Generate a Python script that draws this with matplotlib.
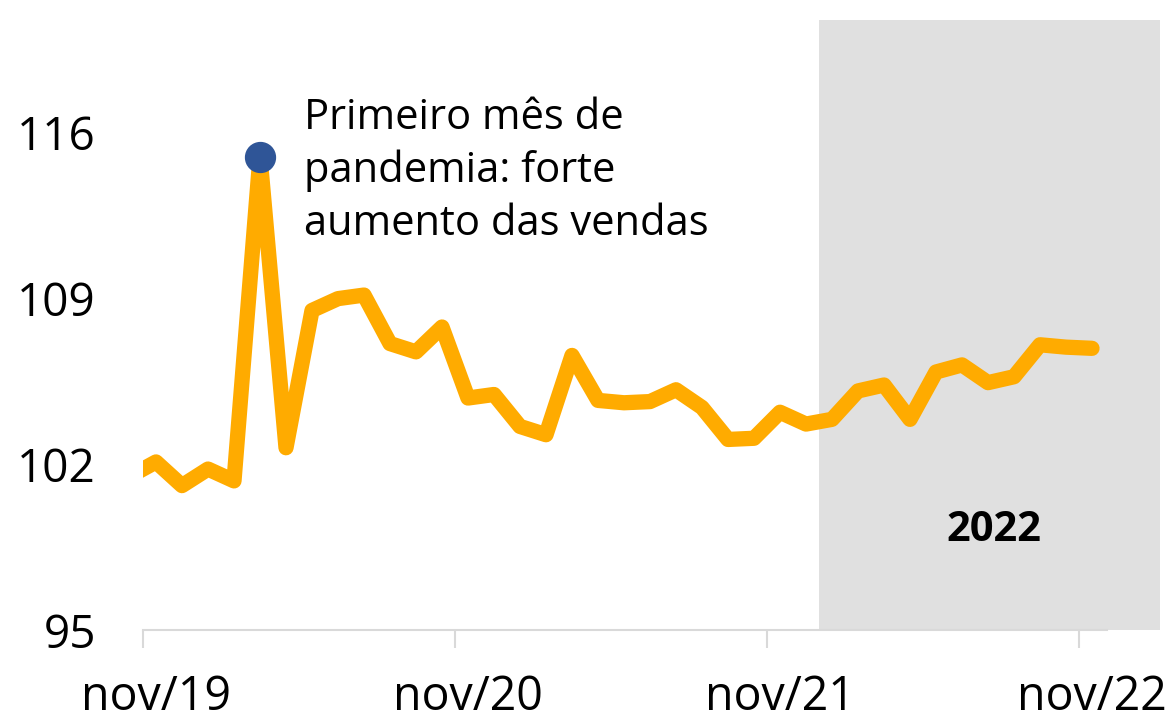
import matplotlib
matplotlib.use("Agg")
import matplotlib.pyplot as plt
import numpy as np

plt.rcParams['font.family'] = ['Open Sans', 'DejaVu Sans']

# Monthly index values, oct/19 .. nov/22
months = ["out/19", "nov/19", "dez/19", "jan/20", "fev/20", "mar/20", "abr/20", "mai/20",
          "jun/20", "jul/20", "ago/20", "set/20", "out/20", "nov/20", "dez/20", "jan/21",
          "fev/21", "mar/21", "abr/21", "mai/21", "jun/21", "jul/21", "ago/21", "set/21",
          "out/21", "nov/21", "dez/21", "jan/22", "fev/22", "mar/22", "abr/22", "mai/22",
          "jun/22", "jul/22", "ago/22", "set/22", "out/22", "nov/22"]
values = [101.5, 102.1, 101.1, 101.8, 101.3, 115.0, 102.7, 108.5,
          109.0, 109.15, 107.1, 106.75, 107.8, 104.8, 104.95, 103.6,
          103.25, 106.6, 104.7, 104.6, 104.65, 105.15, 104.4, 103.05,
          103.1, 104.2, 103.7, 103.9, 105.1, 105.35, 103.9, 105.9,
          106.2, 105.45, 105.7, 107.05, 106.95, 106.9]

tick_labels = ["nov/19", "nov/20", "nov/21", "nov/22"]
highlight_month = "mar/20"
shade_start_month = "jan/22"

x = np.arange(len(values))

fig = plt.figure(figsize=(11.73, 7.23), dpi=100)
ax = fig.add_axes([143/1173, 1 - 630/723, (1160 - 143)/1173, (630 - 20)/723])

s = months.index(shade_start_month) - 0.5
ax.axvspan(s, 100, color="#E0E0E0", zorder=0, lw=0)

ax.plot(x, values, color="#FFAB00", lw=11, solid_joinstyle="round",
        solid_capstyle="round", zorder=2)
hi = months.index(highlight_month)
ax.plot([x[hi]], [values[hi]], "o", color="#2F5597", ms=21.5, zorder=3)

ax.set_xlim(0.5, (1160 - 130) / 26)
ax.set_ylim(95, 95 + 610 / 23.67)

ax.set_yticks([95, 102, 109, 116])
ax.set_yticklabels(["95", "102", "109", "116"])

# tick marks at category boundaries, labels centred on the month points
label_pos = [months.index(m) for m in tick_labels]
ax.set_xticks([p - 0.5 for p in label_pos])
ax.set_xticklabels([])
ax.set_xticks(label_pos, minor=True)
ax.set_xticklabels(tick_labels, minor=True)

for sp in ["left", "right", "top"]:
    ax.spines[sp].set_visible(False)
ax.spines["bottom"].set_color("#D9D9D9")
ax.spines["bottom"].set_linewidth(1.5)
ax.spines["bottom"].set_bounds(0.5, (1107 - 130) / 26)

ax.tick_params(axis="y", length=0, pad=34, labelsize=33)
ax.tick_params(axis="x", which="major", length=13, width=1.5, color="#D9D9D9")
ax.tick_params(axis="x", which="minor", length=0, pad=31, labelsize=33.5)

ax.text(x[hi] + 1.7, 117.5, "Primeiro mês de\npandemia: forte\naumento das vendas",
        fontsize=30, va="top", ha="left", linespacing=1.32, zorder=4)
ax.text(33.22, 99.2, "2022", fontsize=30, fontweight="bold", ha="center", va="center")

fig.savefig("out.png", dpi=100)
